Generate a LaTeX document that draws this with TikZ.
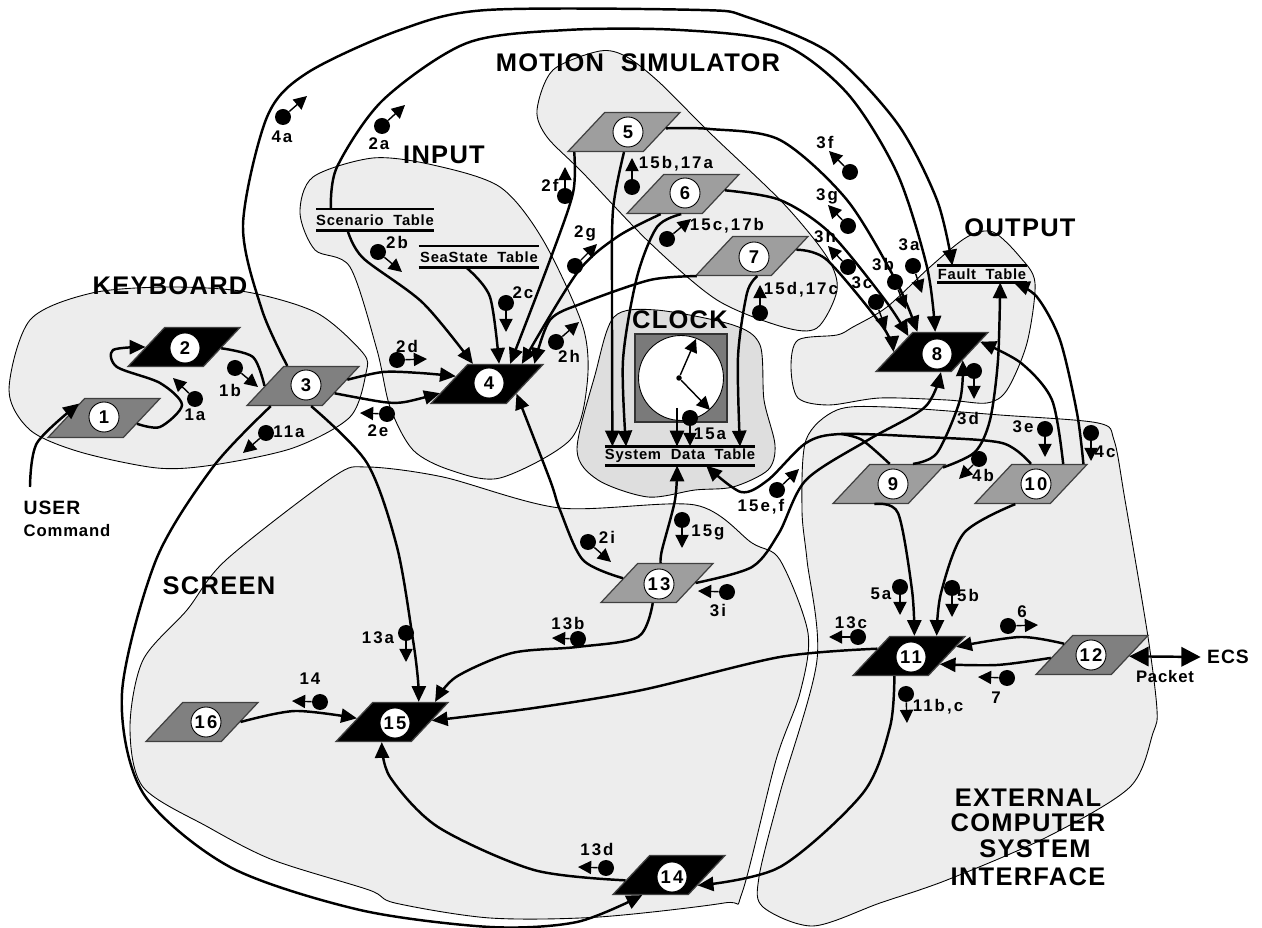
\documentclass[tikz,border=0pt]{standalone}
\usepackage{fontspec}
\usepackage{xcolor}
\setmainfont{Liberation Sans}
\newfontfamily\flowfont{Liberation Sans}[LetterSpace=12]
\newfontfamily\titlefont{Liberation Sans}[LetterSpace=5]
\newfontfamily\tablefont{Liberation Sans}[LetterSpace=5]
\usetikzlibrary{shapes.geometric, arrows.meta}

\begin{document}
\begin{tikzpicture}[
  x=0.02cm, y=-0.02cm,
  region/.style={draw=black, line width=0.5pt, fill=black!7},
  clockregion/.style={draw=black, line width=0.5pt, fill=black!13},
  proc/.style={trapezium, trapezium left angle=46.5, trapezium right angle=133.5, trapezium stretches=true,
              text width=2pt, text height=2pt, text depth=0pt,
              minimum width=2.24cm, minimum height=0.78cm, inner sep=0pt, draw=black!75, line width=0.7pt},
  procblack/.style={proc, fill=black},
  procdark/.style={proc, fill=black!50},
  procmid/.style={proc, fill=black!38},
  numdisc/.style={circle, draw=black, line width=0.5pt, fill=white, minimum size=0.6cm, inner sep=0pt,
              font=\flowfont\bfseries\fontsize{10.5}{12}\selectfont},
  tablebox/.style={inner sep=0pt, outer sep=0pt, align=center, font=\tablefont\bfseries\fontsize{8.4}{10}\selectfont},
  tabline/.style={line width=1.7pt},
  flow/.style={line width=1.4pt, -{Triangle[length=9pt,width=8pt]}},
  flowplain/.style={line width=1.4pt},
  ecsarr/.style={line width=1.4pt, {Triangle[length=11pt,width=11pt]}-{Triangle[length=11pt,width=11pt]}},
  msgdot/.style={circle, fill=black, minimum size=0.32cm, inner sep=0pt},
  msgarr/.style={line width=0.8pt, -{Triangle[length=7.5pt,width=7.5pt]}},
  flowlabel/.style={inner sep=0pt, font=\flowfont\bfseries\fontsize{9.6}{11}\selectfont},
  titlelabel/.style={inner sep=0pt, font=\titlefont\bfseries\fontsize{14.5}{17}\selectfont},
  userlabel/.style={inner sep=0pt, font=\titlefont\bfseries\fontsize{11}{13}\selectfont}
]
\useasboundingbox (0,0) rectangle (1262,928);

% regions
\draw[region] plot[smooth cycle] coordinates {(92,293) (170,287) (247,292) (317,313) (363,353) (366,373) (350,417) (293,448) (213,465) (157,468) (80,452) (30,430) (9,390) (30,320)};
\draw[region] plot[smooth cycle] coordinates {(300,213) (313,177) (373,158) (433,165) (500,187) (543,240) (583,327) (587,385) (570,440) (500,478) (450,470) (413,450) (390,407) (377,350) (350,267) (315,250)};
\draw[region] plot[smooth cycle] coordinates {(537,110) (553,70) (600,51) (627,57) (660,83) (710,133) (783,203) (827,257) (837,290) (817,328) (783,327) (717,300) (650,243) (583,173) (547,137)};
\draw[clockregion] plot[smooth cycle] coordinates {(614,317) (656,310) (733,325) (760,345) (764,400) (775,445) (768,470) (733,487) (695,490) (648,497) (598,480) (577,450) (595,375)};
\draw[region] plot[smooth cycle] coordinates {(226,560) (187,610) (143,660) (130,727) (143,787) (208,827) (273,860) (369,890) (395,903) (490,918) (599,917) (724,903) (742,893) (776,760) (800,693) (808,633) (780,560) (752,543) (695,505) (560,508) (443,477) (367,467) (333,477)};
\draw[region] plot[smooth cycle] coordinates {(791,367) (798,340) (837,335) (853,327) (887,307) (930,267) (967,237) (993,232) (1020,257) (1035,283) (1027,343) (1007,390) (987,403) (947,400) (880,398) (829,405) (798,398)};
\draw[region] plot[smooth cycle] coordinates {(806,440) (837,410) (887,407) (1000,415) (1098,423) (1114,440) (1125,500) (1148,637) (1157,710) (1153,733) (1130,787) (1047,837) (947,880) (880,903) (813,926) (763,907) (759,877) (780,793) (817,660) (807,560) (802,510)};

% clock
\node[rectangle, draw=black!80, line width=0.8pt, fill=black!52, minimum width=1.84cm, minimum height=1.76cm] (clockbox) at (681,378) {};
\node[circle, draw=black, line width=0.5pt, fill=white, minimum size=1.7cm, inner sep=0pt] (dial) at (681,378) {};
\node[circle, fill=black, minimum size=0.11cm, inner sep=0pt] (hub) at (679,378) {};
\coordinate (hand1) at (696,339);
\coordinate (hand2) at (710,410);
\coordinate (sysin) at (677,408);
\draw[msgarr] (hub) -- (hand1);
\draw[msgarr] (hub) -- (hand2);

% tables
\node[tablebox, minimum width=2.36cm, minimum height=0.44cm] (tscen) at (375,220) {Scenario\ \ Table};
\node[tablebox, minimum width=2.42cm, minimum height=0.44cm] (tsea)  at (479,257) {SeaState\ \ Table};
\node[tablebox, minimum width=1.8cm,  minimum height=0.34cm] (tfault) at (982,274) {Fault\ \ Table};
\node[tablebox, minimum width=3cm,    minimum height=0.38cm] (tsys)  at (680,456) {System\ \ Data\ \ Table};
\draw[tabline] (tscen.north west) -- (tscen.north east);
\draw[tabline] (tscen.south west) -- (tscen.south east);
\draw[tabline] (tsea.north west) -- (tsea.north east);
\draw[tabline] (tsea.south west) -- (tsea.south east);
\draw[tabline] (tfault.north west) -- (tfault.north east);
\draw[tabline] (tfault.south west) -- (tfault.south east);
\draw[tabline] (tsys.north west) -- (tsys.north east);
\draw[tabline] (tsys.south west) -- (tsys.south east);

% processes
\node[procdark]  (p1)  at (104,418) {};
\node[procblack] (p2)  at (184,347) {};
\node[procdark]  (p3)  at (303,386) {};
\node[procblack] (p4)  at (487,384) {};
\node[procmid]   (p5)  at (624,132) {};
\node[procmid]   (p6)  at (683,194) {};
\node[procmid]   (p7)  at (752,256) {};
\node[procblack] (p8)  at (932,352) {};
\node[procmid]   (p9)  at (889,484) {};
\node[procmid]   (p10) at (1031,484) {};
\node[procblack] (p11) at (909,656) {};
\node[procdark]  (p12) at (1092,655) {};
\node[procmid]   (p13) at (657,583) {};
\node[procblack] (p14) at (669,875) {};
\node[procblack] (p15) at (392,722) {};
\node[procdark]  (p16) at (202,722) {};

\node[numdisc] (n1)  at (104,417) {1};
\node[numdisc] (n2)  at (185,348) {2};
\node[numdisc] (n3)  at (306,385) {3};
\node[numdisc] (n4)  at (489,383) {4};
\node[numdisc] (n5)  at (628,132) {5};
\node[numdisc] (n6)  at (685,193) {6};
\node[numdisc] (n7)  at (754,257) {7};
\node[numdisc] (n8)  at (937,354) {8};
\node[numdisc] (n9)  at (893,484) {9};
\node[numdisc] (n10) at (1036,484) {10};
\node[numdisc] (n11) at (911,657) {11};
\node[numdisc] (n12) at (1091,655) {12};
\node[numdisc] (n13) at (659,584) {13};
\node[numdisc] (n14) at (672,877) {14};
\node[numdisc] (n15) at (395,723) {15};
\node[numdisc] (n16) at (206,722) {16};

% connectors
\coordinate (userin) at (30,487);
\draw[flow] plot[smooth] coordinates {(userin) (37,443) (p1.150)};
\draw[flow] plot[smooth] coordinates {(p1.350) (160,427) (182,405) (160,383) (117,367) (113,350) (p2.180)};
\draw[flowplain] plot[smooth] coordinates {(p2.358) (253,357) (p3.180)};
\draw[flow] plot[smooth] coordinates {(p3.8) (383,372) (420,373) (p4.166)};
\draw[flow] plot[smooth] coordinates {(p3.347) (383,402) (405,402) (p4.191)};
\draw[flow] plot[smooth] coordinates {(p3.128) (262,310) (243,225) (267,117) (307,73) (400,30) (487,10) (700,10) (747,17) (830,53) (897,123) (937,200) (tfault.164)};
\draw[flow] plot[smooth] coordinates {(tscen.166) (337,167) (383,100) (467,43) (567,30) (680,30) (780,43) (847,93) (897,173) (927,267) (p8.81)};
\draw[flow] plot[smooth] coordinates {(p3.212) (213,467) (156,560) (122,693) (143,793) (230,867) (360,910) (490,927) (577,922) (p14.217)};
\draw[flow] plot[smooth] coordinates {(p3.292) (367,463) (397,547) (413,640) (418,680) (p15.37)};
\draw[flow] plot[smooth] coordinates {(tscen.202) (363,258) (423,303) (p4.125)};
\draw[flow] plot[smooth] coordinates {(tsea.222) (490,297) (p4.59)};
\draw[flow] plot[smooth] coordinates {(p5.202) (573,193) (550,260) (p4.41)};
\draw[flow] plot[smooth] coordinates {(p6.222) (617,237) (577,273) (p4.30)};
\draw[flow] plot[smooth] coordinates {(p7.200) (650,280) (583,303) (550,320) (p4.23.5)};
\draw[flow] plot[smooth] coordinates {(p13.172) (583,560) (560,510) (550,480) (p4.342)};
\draw[flow] plot[smooth] coordinates {(p5.270) (613,210) (612,300) (tsys.172.5)};
\draw[flow] plot[smooth] coordinates {(p6.265) (657,227) (637,277) (623,360) (tsys.170.9)};
\draw[flow] plot[smooth] coordinates {(p7.285) (747,293) (738,357) (tsys.9.6)};
\draw[flow] (sysin) -- (sysin |- tsys.north);
\draw[flow] plot[smooth] coordinates {(p13.80) (662,550) (675,500) (tsys.253)};
\draw[flow] plot[smooth] coordinates {(p5.5) (710,129) (780,140) (847,200) (897,283) (p8.126)};
\draw[flow] plot[smooth] coordinates {(p6.5) (780,200) (830,233) (885,300) (p8.146)};
\draw[flow] plot[smooth] coordinates {(p7.8) (827,260) (883,327) (p8.180)};
\draw[flow] plot[smooth] coordinates {(p13.0) (752,567) (779,533) (806,480) (868,440) (925,407) (p8.294)};
\draw[flow] plot[smooth] coordinates {(p10.90) (1002,443) (925,437) (841,434) (806,443) (768,480) (741,492) (tsys.340)};
\draw[flowplain] plot[smooth] coordinates {(p9.88) (862,440) (841,434)};
\draw[flow] plot[smooth] coordinates {(p9.40) (937,453) (960,400) (p8.345)};
\draw[flow] plot[smooth] coordinates {(p9.17) (975,452) (990,420) (998,360) (tfault.335)};
\draw[flow] plot[smooth] coordinates {(p10.32) (1052,400) (1021,363) (p8.12)};
\draw[flow] plot[smooth] coordinates {(p10.21) (1077,413) (1060,340) (1037,297) (tfault.345)};
\draw[flow] plot[smooth] coordinates {(p9.234) (898,513) (912,590) (p11.75)};
\draw[flow] plot[smooth] coordinates {(p10.232) (964,533) (941,593) (p11.36)};
\draw[flow] plot[smooth] coordinates {(p12.158) (1020,637) (p11.11)};
\draw[flow] plot[smooth] coordinates {(p12.184) (997,665) (p11.345)};
\draw[flow] plot[smooth] coordinates {(p11.167) (780,657) (642,690) (534,708) (p15.2)};
\draw[flow] plot[smooth] coordinates {(p11.234) (890,727) (863,793) (780,867) (p14.340)};
\draw[flow] plot[smooth] coordinates {(p14.187) (534,870) (438,827) (390,777) (p15.243)};
\draw[flow] plot[smooth] coordinates {(p13.258) (638,637) (577,647) (512,653) (456,677) (p15.25)};
\draw[flow] plot[smooth] coordinates {(p16.0) (295,711) (p15.174)};
\node[inner sep=3.5pt, font=\titlefont\bfseries\fontsize{11}{13}\selectfont] (ecs) at (1228,657) {ECS};
\draw[ecsarr] (p12.358) -- (ecs.west);

% data items
\node[msgdot] (m1a) at (195,399) {}; \coordinate (m1at) at (173,378); \draw[msgarr] (m1a) -- (m1at); \node[flowlabel] (l1a) at (195,415) {1a};
\node[msgdot] (m1b) at (235,368) {}; \coordinate (m1bt) at (258,387); \draw[msgarr] (m1b) -- (m1bt); \node[flowlabel] (l1b) at (230,390) {1b};
\node[msgdot] (m11a) at (266,433) {}; \coordinate (m11at) at (243,453); \draw[msgarr] (m11a) -- (m11at); \node[flowlabel] (l11a) at (289,432) {11a};
\node[msgdot] (m2a) at (382,126) {}; \coordinate (m2at) at (405,105); \draw[msgarr] (m2a) -- (m2at); \node[flowlabel] (l2a) at (379,144) {2a};
\node[msgdot] (m2b) at (378,252) {}; \coordinate (m2bt) at (402,272); \draw[msgarr] (m2b) -- (m2bt); \node[flowlabel] (l2b) at (397,242) {2b};
\node[msgdot] (m2c) at (506,303) {}; \coordinate (m2ct) at (506,332); \draw[msgarr] (m2c) -- (m2ct); \node[flowlabel] (l2c) at (523,293) {2c};
\node[msgdot] (m2d) at (397,360) {}; \coordinate (m2dt) at (427,359); \draw[msgarr] (m2d) -- (m2dt); \node[flowlabel] (l2d) at (407,346) {2d};
\node[msgdot] (m2e) at (387,414) {}; \coordinate (m2et) at (360,413); \draw[msgarr] (m2e) -- (m2et); \node[flowlabel] (l2e) at (378,431) {2e};
\node[msgdot] (m2f) at (565,196) {}; \coordinate (m2ft) at (565,167); \draw[msgarr] (m2f) -- (m2ft); \node[flowlabel] (l2f) at (550,185) {2f};
\node[msgdot] (m2g) at (575,266) {}; \coordinate (m2gt) at (597,244); \draw[msgarr] (m2g) -- (m2gt); \node[flowlabel] (l2g) at (585,233) {2g};
\node[msgdot] (m2h) at (556,342) {}; \coordinate (m2ht) at (579,322); \draw[msgarr] (m2h) -- (m2ht); \node[flowlabel] (l2h) at (569,356) {2h};
\node[msgdot] (m2i) at (588,542) {}; \coordinate (m2it) at (611,562); \draw[msgarr] (m2i) -- (m2it); \node[flowlabel] (l2i) at (607,537) {2i};
\node[msgdot] (m3a) at (913,266) {}; \coordinate (m3at) at (922,293); \draw[msgarr] (m3a) -- (m3at); \node[flowlabel] (l3a) at (909,245) {3a};
\node[msgdot] (m3b) at (895,282) {}; \coordinate (m3bt) at (906,309); \draw[msgarr] (m3b) -- (m3bt); \node[flowlabel] (l3b) at (883,264) {3b};
\node[msgdot] (m3c) at (876,302) {}; \coordinate (m3ct) at (886,330); \draw[msgarr] (m3c) -- (m3ct); \node[flowlabel] (l3c) at (862,283) {3c};
\node[msgdot] (m3d) at (974,371) {}; \coordinate (m3dt) at (974,399); \draw[msgarr] (m3d) -- (m3dt); \node[flowlabel] (l3d) at (968,418) {3d};
\node[msgdot] (m3e) at (1045,429) {}; \coordinate (m3et) at (1045,457); \draw[msgarr] (m3e) -- (m3et); \node[flowlabel] (l3e) at (1023,427) {3e};
\node[msgdot] (m3f) at (850,172) {}; \coordinate (m3ft) at (829,151); \draw[msgarr] (m3f) -- (m3ft); \node[flowlabel] (l3f) at (825,142) {3f};
\node[msgdot] (m3g) at (848,226) {}; \coordinate (m3gt) at (828,205); \draw[msgarr] (m3g) -- (m3gt); \node[flowlabel] (l3g) at (827,196) {3g};
\node[msgdot] (m3h) at (848,267) {}; \coordinate (m3ht) at (828,246); \draw[msgarr] (m3h) -- (m3ht); \node[flowlabel] (l3h) at (825,236) {3h};
\node[msgdot] (m3i) at (727,592) {}; \coordinate (m3it) at (698,591); \draw[msgarr] (m3i) -- (m3it); \node[flowlabel] (l3i) at (718,610) {3i};
\node[msgdot] (m4a) at (283,117) {}; \coordinate (m4at) at (307,96); \draw[msgarr] (m4a) -- (m4at); \node[flowlabel] (l4a) at (282,137) {4a};
\node[msgdot] (m4b) at (979,459) {}; \coordinate (m4bt) at (959,479); \draw[msgarr] (m4b) -- (m4bt); \node[flowlabel] (l4b) at (983,475) {4b};
\node[msgdot] (m4c) at (1091,433) {}; \coordinate (m4ct) at (1091,461); \draw[msgarr] (m4c) -- (m4ct); \node[flowlabel] (l4c) at (1105,452) {4c};
\node[msgdot] (m5a) at (900,587) {}; \coordinate (m5at) at (900,615); \draw[msgarr] (m5a) -- (m5at); \node[flowlabel] (l5a) at (881,594) {5a};
\node[msgdot] (m5b) at (952,588) {}; \coordinate (m5bt) at (952,617); \draw[msgarr] (m5b) -- (m5bt); \node[flowlabel] (l5b) at (968,595) {5b};
\node[msgdot] (m6) at (1008,626) {}; \coordinate (m6t) at (1038,625); \draw[msgarr] (m6) -- (m6t); \node[flowlabel] (l6) at (1022,612) {6};
\node[msgdot] (m7) at (1007,678) {}; \coordinate (m7t) at (978,677); \draw[msgarr] (m7) -- (m7t); \node[flowlabel] (l7) at (996,698) {7};
\node[msgdot] (m11b) at (906,694) {}; \coordinate (m11bt) at (907,723); \draw[msgarr] (m11b) -- (m11bt); \node[flowlabel] (l11b) at (938,707) {11b,c};
\node[msgdot] (m13a) at (406,633) {}; \coordinate (m13at) at (406,662); \draw[msgarr] (m13a) -- (m13at); \node[flowlabel] (l13a) at (378,638) {13a};
\node[msgdot] (m13b) at (578,639) {}; \coordinate (m13bt) at (552,638); \draw[msgarr] (m13b) -- (m13bt); \node[flowlabel] (l13b) at (568,623) {13b};
\node[msgdot] (m13c) at (858,637) {}; \coordinate (m13ct) at (829,637); \draw[msgarr] (m13c) -- (m13ct); \node[flowlabel] (l13c) at (851,623) {13c};
\node[msgdot] (m13d) at (606,868) {}; \coordinate (m13dt) at (578,867); \draw[msgarr] (m13d) -- (m13dt); \node[flowlabel] (l13d) at (597,849) {13d};
\node[msgdot] (m14) at (320,702) {}; \coordinate (m14t) at (292,701); \draw[msgarr] (m14) -- (m14t); \node[flowlabel] (l14) at (310,679) {14};
\node[msgdot] (m15a) at (690,418) {}; \coordinate (m15at) at (690,446); \draw[msgarr] (m15a) -- (m15at); \node[flowlabel] (l15a) at (710,434) {15a};
\node[msgdot] (m15b) at (632,187) {}; \coordinate (m15bt) at (632,158); \draw[msgarr] (m15b) -- (m15bt); \node[flowlabel] (l15b) at (676,164) {15b,17a};
\node[msgdot] (m15c) at (667,239) {}; \coordinate (m15ct) at (691,219); \draw[msgarr] (m15c) -- (m15ct); \node[flowlabel] (l15c) at (727,226) {15c,17b};
\node[msgdot] (m15d) at (760,313) {}; \coordinate (m15dt) at (760,285); \draw[msgarr] (m15d) -- (m15dt); \node[flowlabel] (l15d) at (801,290) {15d,17c};
\node[msgdot] (m15e) at (777,490) {}; \coordinate (m15et) at (799,469); \draw[msgarr] (m15e) -- (m15et); \node[flowlabel] (l15e) at (761,507) {15e,f};
\node[msgdot] (m15g) at (682,520) {}; \coordinate (m15gt) at (682,548); \draw[msgarr] (m15g) -- (m15gt); \node[flowlabel] (l15g) at (708,532) {15g};

% titles
\node[titlelabel] (tkeyboard) at (170,286) {KEYBOARD};
\node[titlelabel] (tmotion) at (638,63) {MOTION\ \ SIMULATOR};
\node[titlelabel] (tinput) at (444,155) {INPUT};
\node[titlelabel] (tclock) at (680,320) {CLOCK};
\node[titlelabel] (toutput) at (1020,228) {OUTPUT};
\node[titlelabel] (tscreen) at (219,586) {SCREEN};
\node[titlelabel] (text1) at (1028,798) {EXTERNAL};
\node[titlelabel] (text2) at (1028,823) {COMPUTER};
\node[titlelabel] (text3) at (1035,849) {SYSTEM};
\node[titlelabel] (text4) at (1028,877) {INTERFACE};
\node[userlabel] (user) at (52,508) {USER};
\node[flowlabel, font=\titlefont\bfseries\fontsize{9.5}{11}\selectfont] (command) at (67,531) {Command};
\node[flowlabel, font=\titlefont\bfseries\fontsize{9.5}{11}\selectfont] (packet) at (1165,677) {Packet};

\end{tikzpicture}
\end{document}
